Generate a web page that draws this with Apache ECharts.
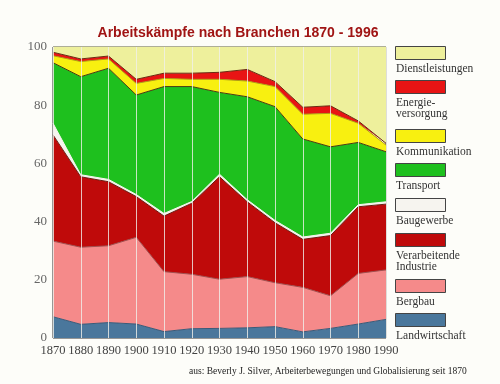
<!DOCTYPE html>
<html><head><meta charset="utf-8">
<script src="https://cdn.jsdelivr.net/npm/echarts@6/dist/echarts.min.js"></script>
<style>html,body{margin:0;padding:0;background:#fdfdf9;}#c{width:500px;height:384px;}</style>
</head><body><div id="c"></div>
<script>
const years = ['1870','1880','1890','1900','1910','1920','1930','1940','1950','1960','1970','1980','1990'];
const yTicks = [0,20,40,60,80,100];
const landwirtschaft = [7.3, 4.7, 5.3, 4.8, 2.2, 3.2, 3.3, 3.5, 3.9, 2.1, 3.3, 4.8, 6.4];
const bergbau = [26.0, 26.5, 26.4, 29.8, 20.6, 18.7, 16.9, 17.6, 15.1, 15.3, 11.2, 17.4, 17.0];
const verarbeitende = [36.5, 24.2, 22.0, 14.0, 19.1, 24.4, 35.2, 25.7, 20.6, 16.5, 20.7, 22.9, 22.6];
const baugewerbe = [4.0, 0.7, 0.8, 0.7, 0.9, 0.6, 0.9, 0.7, 0.8, 0.8, 0.8, 0.7, 0.8];
const transport = [20.8, 33.7, 38.2, 34.2, 43.6, 39.5, 28.1, 35.4, 39.1, 33.7, 29.7, 21.4, 17.2];
const kommunikation = [2.4, 5.2, 3.2, 4.0, 2.8, 2.5, 4.5, 5.4, 6.9, 8.5, 11.5, 6.6, 2.3];
const energie = [1.2, 0.9, 1.0, 1.4, 1.8, 2.1, 2.4, 4.0, 1.7, 2.4, 2.6, 0.8, 0.6];
const dienstleistungen = [1.8, 4.1, 3.1, 11.1, 9.0, 9.0, 8.7, 7.7, 11.9, 20.7, 20.2, 25.4, 33.1];

const seriesDefs = [
  {name:'Landwirtschaft', label:['Landwirtschaft'], data:landwirtschaft, color:'#4a779c', line:'#3a5a78'},
  {name:'Bergbau', label:['Bergbau'], data:bergbau, color:'#f58a8a', line:'#a05050'},
  {name:'Verarbeitende Industrie', label:['Verarbeitende','Industrie'], data:verarbeitende, color:'#bf0a0a', line:'#6a1a10'},
  {name:'Baugewerbe', label:['Baugewerbe'], data:baugewerbe, color:'#f6f4ef', line:'#f6f4ef'},
  {name:'Transport', label:['Transport'], data:transport, color:'#1ec01e', line:'#4a3a10'},
  {name:'Kommunikation', label:['Kommunikation'], data:kommunikation, color:'#f8f010', line:'#b0a010'},
  {name:'Energieversorgung', label:['Energie-','versorgung'], data:energie, color:'#e81414', line:'#6a2a10'},
  {name:'Dienstleistungen', label:['Dienstleistungen'], data:dienstleistungen, color:'#eef09c', line:'#eef09c'}
];

const chart = echarts.init(document.getElementById('c'), null, {renderer:'canvas'});
const serif = '"Liberation Serif","DejaVu Serif",serif';

const graphics = [];
const order = seriesDefs.slice().reverse();
const boxTops = [46, 80, 129, 163, 198, 233, 279, 313];
order.forEach((s, i) => {
  const t = boxTops[i];
  graphics.push({type:'rect', left:395, top:t, shape:{width:50, height:13},
    style:{fill:s.color, stroke:'#444', lineWidth:1}, z:10});
  graphics.push({type:'text', left:396, top:t+17, style:{text:s.label.join('\n'), font:'11.5px '+serif,
    fill:'#333', lineHeight:11}, z:10});
});
graphics.push({type:'text', left:189, top:366, style:{text:'aus: Beverly J. Silver, Arbeiterbewegungen und Globalisierung seit 1870',
  font:'9.5px '+serif, fill:'#222'}});

chart.setOption({
  backgroundColor:'#fdfdf9',
  animation:false,
  title:{text:'Arbeitskämpfe nach Branchen 1870 - 1996', left:233, textAlign:'center', top:21,
    textStyle:{color:'#a01414', fontSize:14, fontWeight:'bold', fontFamily:'"Liberation Sans",Arial,sans-serif'}},
  grid:{left:53, right:114, top:47, bottom:46, show:true, borderColor:'#333', borderWidth:1, backgroundColor:'transparent'},
  xAxis:{type:'category', data:years, boundaryGap:false, z:5,
    axisLine:{show:false}, axisTick:{show:false},
    axisLabel:{color:'#444', fontFamily:serif, fontSize:12.5, margin:6, interval:0},
    splitLine:{show:true, interval:0, lineStyle:{color:'rgba(240,240,235,0.8)', width:1}}},
  yAxis:{type:'value', min:0, max:100, interval:20, z:5,
    axisLine:{show:false}, axisTick:{show:false},
    axisLabel:{color:'#666', fontFamily:serif, fontSize:13, margin:6},
    splitLine:{show:false}},
  graphic:graphics,
  series: seriesDefs.map(s => ({
    name:s.name, type:'line', stack:'all', data:s.data, symbol:'none',
    lineStyle:{color:s.line, width:1},
    areaStyle:{color:s.color, opacity:1},
    itemStyle:{color:s.color}
  }))
});
</script></body></html>
